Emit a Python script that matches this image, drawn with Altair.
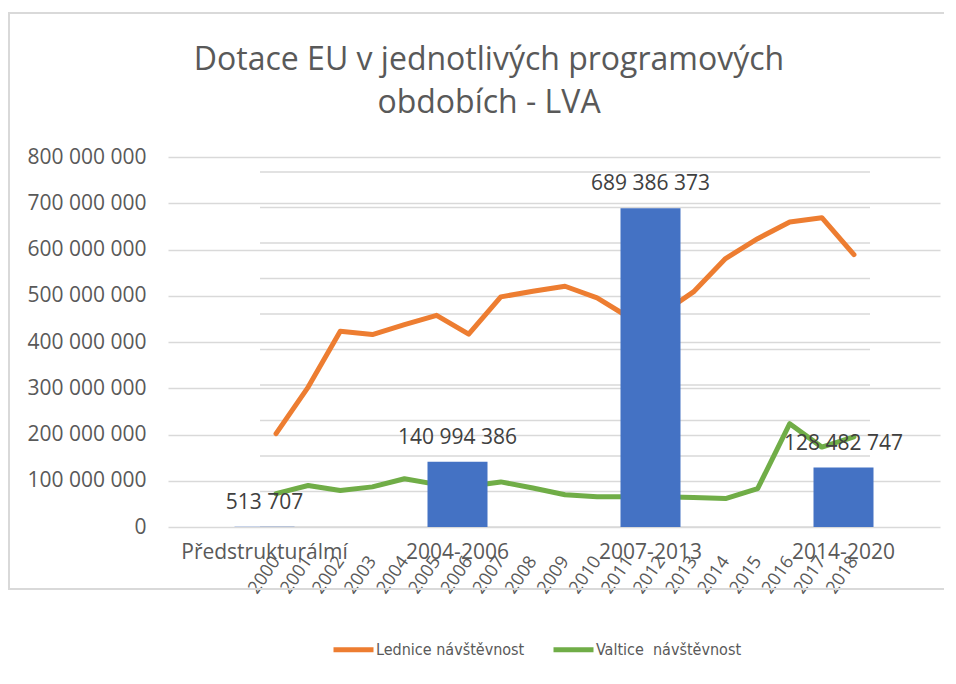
import altair as alt
import pandas as pd

# ---- data ----
periods = ["Předstrukturálmí", "2004-2006", "2007-2013", "2014-2020"]
subsidies = [513707, 140994386, 689386373, 128482747]

years = ["2000", "2001", "2002", "2003", "2004", "2005", "2006", "2007", "2008", "2009",
         "2010", "2011", "2012", "2013", "2014", "2015", "2016", "2017", "2018"]
lednice = [131500, 197000, 275500, 271000, 285000, 298000, 271500, 324000, 332000, 339000,
           322500, 295000, 300000, 331000, 378000, 406000, 429500, 435500, 383500]
valtice = [47000, 58500, 51500, 56500, 68000, 60000, 57500, 63500, 55000, 45500,
           42500, 42500, 42500, 41500, 40000, 54000, 145500, 112500, 127000]
series_names = ["Lednice návštěvnost", "Valtice\u00a0 návštěvnost"]

primary_ticks = [0, 100000000, 200000000, 300000000, 400000000, 500000000, 600000000, 700000000, 800000000]
secondary_grid = [0, 50000, 100000, 150000, 200000, 250000, 300000, 350000, 400000, 450000, 500000]

# ---- tables ----
bars_df = pd.DataFrame({
    "period": periods,
    "amount": subsidies,
    "label": [f"{v:,}".replace(",", " ") for v in subsidies],
})
lines_df = pd.DataFrame({
    "year": years * 2,
    "series": [series_names[0]] * len(years) + [series_names[1]] * len(years),
    "visitors": lednice + valtice,
})
grid_df = pd.DataFrame({"g": secondary_grid})
frame_df = pd.DataFrame({"k": [0]})

FONT = "Open Sans"
GREY = "#595959"
ORANGE = "#ED7D31"
GREEN = "#70AD47"
BLUE = "#4472C4"

sec_y = alt.Scale(domain=[0, 521000], nice=False, zero=True)
sec_x = alt.Scale(type="point", range=[92, 702], padding=0.5)

rules = alt.Chart(grid_df).mark_rule(color="#D9D9D9", strokeWidth=1.5).encode(
    y=alt.Y("g:Q", scale=sec_y, axis=None),
    x=alt.value(92),
    x2=alt.value(702),
)

lines = alt.Chart(lines_df).mark_line(strokeWidth=5, strokeJoin="round", strokeCap="round").encode(
    x=alt.X("year:O", sort=years, scale=sec_x,
            axis=alt.Axis(title=None, orient="bottom", labelAngle=305, labelPadding=31,
                          ticks=False, domain=False, grid=False, labelFontSize=18,
                          labelFont=FONT, labelColor=GREY, labelAlign="right",
                          labelBaseline="middle")),
    y=alt.Y("visitors:Q", scale=sec_y, axis=None),
    color=alt.Color("series:N", sort=series_names,
                    scale=alt.Scale(domain=series_names, range=[ORANGE, GREEN]),
                    legend=alt.Legend(title=None, orient="none", legendX=163, legendY=470,
                                      direction="horizontal", symbolType="stroke",
                                      symbolSize=1600, symbolStrokeWidth=5,
                                      labelFont="DejaVu Sans Condensed, Roboto Condensed, Roboto",
                                      labelFontSize=16,
                                      labelColor=GREY, columnPadding=18, labelOffset=0)),
)

secondary = alt.layer(rules, lines)

bar_x = alt.X("period:N", sort=periods, scale=alt.Scale(paddingInner=0, paddingOuter=0),
              axis=alt.Axis(title=None, orient="bottom", labelAngle=0, labelPadding=14,
                            ticks=False, domain=False,
                            grid=False, labelFontSize=21, labelFont=FONT, labelColor=GREY))
bar_y = alt.Y("amount:Q", scale=alt.Scale(domain=[0, 800000000], nice=False),
              axis=alt.Axis(title=None, values=primary_ticks, ticks=False, domain=False,
                            grid=True, gridColor="#D9D9D9", gridWidth=1.5,
                            labelPadding=22, labelFontSize=21, labelFont=FONT, labelColor=GREY,
                            labelExpr="replace(format(datum.value, ','), regexp(',', 'g'), ' ')"))

bars = alt.Chart(bars_df).mark_bar(color=BLUE, size=60).encode(x=bar_x, y=bar_y)
bar_labels = alt.Chart(bars_df).mark_text(dy=-18, baseline="alphabetic", fontSize=21,
                                          font=FONT, color="#404040").encode(
    x=bar_x, y=bar_y, text="label:N")

primary = alt.layer(bars, bar_labels)

frame = alt.Chart(frame_df).mark_rect(fillOpacity=0, stroke="#D9D9D9", strokeWidth=2).encode(
    x=alt.value(-159), x2=alt.value(800), y=alt.value(-144), y2=alt.value(432)
)

chart = alt.layer(frame, secondary, primary).resolve_scale(
    x="independent", y="independent"
).properties(
    width=772, height=370,
    padding={"left": 160, "top": 149, "right": 4, "bottom": 141},
    autosize=alt.AutoSizeParams(type="none"),
    title=alt.TitleParams(
        text=["Dotace EU v jednotlivých programových", "obdobích - LVA"],
        fontSize=32, font=FONT, fontWeight="normal", color=GREY,
        anchor="middle", dx=-65, offset=0, dy=108, lineHeight=43, frame="group",
    ),
).configure_view(stroke=None)

chart.save("out.html", embed_options={"renderer": "svg", "actions": False})
